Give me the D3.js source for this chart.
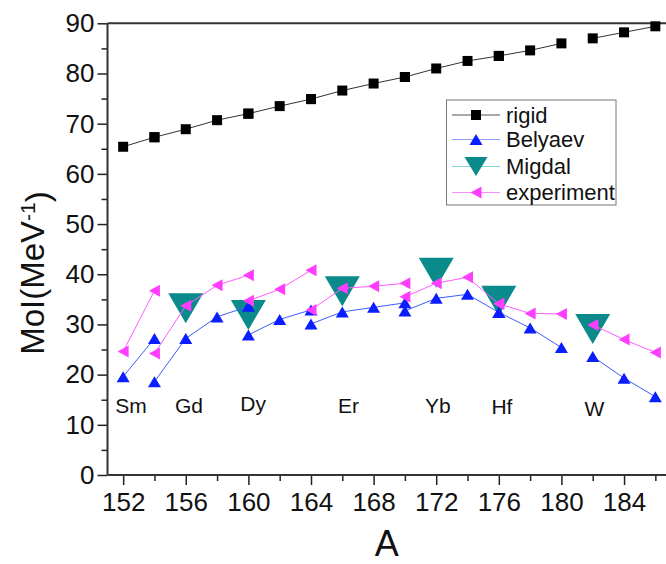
<!DOCTYPE html>
<html>
<head>
<meta charset="utf-8">
<script src="https://cdn.jsdelivr.net/npm/d3@7"></script>
<style>
  html, body { margin: 0; padding: 0; background: #fff; }
  svg { display: block; font-family: "Liberation Sans", Arial, sans-serif; }
</style>
</head>
<body>
<svg id="chart" width="666" height="564"></svg>
<script>
// Isotope mass numbers, grouped by element (each group is drawn as its own polyline)
const elements = ["Sm", "Gd", "Dy", "Er", "Yb", "Hf", "W"];
const isotopeA = [
  [152, 154],
  [154, 156, 158, 160],
  [160, 162, 164],
  [164, 166, 168, 170],
  [170, 172, 174, 176],
  [176, 178, 180],
  [182, 184, 186]
];

// Moment of inertia (MeV^-1) for each series, same grouping as isotopeA
const rigid = [
  [65.4, 67.3],
  [67.3, 68.9, 70.7, 72.0],
  [72.0, 73.5, 74.9],
  [74.9, 76.6, 78.0, 79.3],
  [79.3, 81.0, 82.5, 83.5],
  [83.5, 84.6, 86.0],
  [87.0, 88.2, 89.4]
];
const belyaev = [
  [19.6, 27.2],
  [18.6, 27.2, 31.5, 33.6],
  [27.9, 31.0, 32.9],
  [30.1, 32.5, 33.4, 34.3],
  [32.7, 35.2, 36.0, 32.4],
  [32.4, 29.3, 25.4],
  [23.6, 19.3, 15.6]
];
const experiment = [
  [24.6, 36.7],
  [24.2, 33.7, 37.8, 39.8],
  [34.7, 37.0, 40.8],
  [32.9, 37.2, 37.6, 38.2],
  [35.5, 38.2, 39.4, 34.1],
  [34.1, 32.2, 32.1],
  [29.9, 27.0, 24.4]
];

// Migdal estimate: one nucleus per element
const migdalA = [156, 160, 166, 172, 176, 182];
const migdal = [33.2, 31.9, 36.6, 40.3, 34.7, 29.1];

// Element name annotations (anchor in data coordinates)
const elementLabelA = [152.5, 156.2, 160.3, 166.4, 172.1, 176.2, 182.1];
const elementLabelY = [13.8, 13.8, 14.3, 13.8, 13.8, 13.7, 13.2];

const xTicks = d3.range(152, 185, 4);
const xMinorTicks = d3.range(154, 187, 4);
const yTicks = d3.range(0, 91, 10);
const yMinorTicks = d3.range(5, 90, 10);

const svg = d3.select("#chart");

const x = d3.scaleLinear().domain([151, 187]).range([107.5, 671]);
const y = d3.scaleLinear().domain([0, 90]).range([475, 23.3]);

const FONT = '"Liberation Sans", Arial, sans-serif';

// Symbol paths centred on their bounding box
const shapes = {
  square: s => `M${-s/2},${-s/2}h${s}v${s}h${-s}Z`,
  up: (w, h) => `M0,${-h/2}L${w/2},${h/2}L${-w/2},${h/2}Z`,
  down: (w, h) => `M${-w/2},${-h/2}L${w/2},${-h/2}L0,${h/2}Z`,
  left: (w, h) => `M${-w/2},0L${w/2},${-h/2}L${w/2},${h/2}Z`
};

const series = [
  { name: "rigid", values: rigid, line: "#333", fill: "#000", path: shapes.square(10) },
  { name: "Belyaev", values: belyaev, line: "#3d5cff", fill: "#0a1eff", path: shapes.up(13, 11) },
  { name: "experiment", values: experiment, line: "#ff5cff", fill: "#ff3dff", path: shapes.left(11, 12) }
];
const migdalStyle = { line: "#7fd6d0", fill: "#0a8a8a", path: shapes.down(35, 30), legendPath: shapes.down(23, 19) };

// Axes
const gx = svg.append("g").attr("transform", `translate(0,${y(0)})`);
gx.call(d3.axisBottom(x).tickValues(xTicks).tickSize(10).tickSizeOuter(0).tickPadding(8));
gx.append("g").call(d3.axisBottom(x).tickValues(xMinorTicks).tickSize(6).tickSizeOuter(0).tickFormat(""));

const gy = svg.append("g").attr("transform", `translate(${x(151)},0)`);
gy.call(d3.axisLeft(y).tickValues(yTicks).tickSize(10).tickSizeOuter(0).tickPadding(3));
gy.append("g").call(d3.axisLeft(y).tickValues(yMinorTicks).tickSize(6).tickSizeOuter(0).tickFormat(""));

svg.selectAll(".domain").remove();
svg.selectAll(".tick line").attr("stroke", "#222").attr("stroke-width", 1.5);
svg.selectAll(".tick text").attr("font-family", FONT).attr("font-size", 26).attr("fill", "#111");

// Frame (left, bottom, top)
const frame = svg.append("g").attr("stroke", "#333").attr("stroke-width", 2).attr("fill", "none");
frame.append("line").attr("x1", x(151)).attr("x2", x(151)).attr("y1", y(90)).attr("y2", y(0));
frame.append("line").attr("x1", x(151)).attr("x2", x(187)).attr("y1", y(0)).attr("y2", y(0));
frame.append("line").attr("x1", x(151)).attr("x2", x(187)).attr("y1", y(90)).attr("y2", y(90));

// Axis titles
svg.append("text")
  .attr("x", (x(151) + 666) / 2).attr("y", 556)
  .attr("text-anchor", "middle")
  .attr("font-family", FONT).attr("font-size", 36).attr("fill", "#111")
  .text("A");

const yTitle = svg.append("text")
  .attr("transform", `translate(44,273) rotate(-90)`)
  .attr("text-anchor", "middle")
  .attr("font-family", FONT).attr("font-size", 33).attr("fill", "#111");
yTitle.append("tspan").text("MoI(MeV");
yTitle.append("tspan").attr("dy", "-0.45em").attr("font-size", 21).text("-1");
yTitle.append("tspan").attr("dy", "0.45em").text(")");

const lineGen = d3.line().x(d => x(d[0])).y(d => y(d[1]));
const plot = svg.append("g");

function drawSeries(s) {
  const g = plot.append("g");
  isotopeA.forEach((As, i) => {
    const pts = As.map((a, j) => [a, s.values[i][j]]);
    g.append("path").attr("d", lineGen(pts))
      .attr("fill", "none").attr("stroke", s.line).attr("stroke-width", 1);
  });
  isotopeA.forEach((As, i) => {
    As.forEach((a, j) => {
      g.append("path").attr("d", s.path)
        .attr("transform", `translate(${x(a)},${y(s.values[i][j])})`)
        .attr("fill", s.fill);
    });
  });
}

// Draw order: rigid, Migdal, Belyaev, experiment
drawSeries(series[0]);
plot.append("g").selectAll("path").data(migdalA).join("path")
  .attr("d", migdalStyle.path)
  .attr("transform", (a, i) => `translate(${x(a)},${y(migdal[i])})`)
  .attr("fill", migdalStyle.fill);
drawSeries(series[1]);
drawSeries(series[2]);

// Element labels
svg.append("g").selectAll("text").data(elements).join("text")
  .attr("x", (d, i) => x(elementLabelA[i]))
  .attr("y", (d, i) => y(elementLabelY[i]))
  .attr("dy", "0.35em")
  .attr("text-anchor", "middle")
  .attr("font-family", FONT).attr("font-size", 21).attr("fill", "#111")
  .text(d => d);

// Legend
const legendItems = [
  { name: "rigid", line: "#555", fill: "#000", path: shapes.square(10) },
  { name: "Belyaev", line: "#8fa0ff", fill: "#0a1eff", path: shapes.up(13, 11) },
  { name: "Migdal", line: migdalStyle.line, fill: migdalStyle.fill, path: migdalStyle.legendPath },
  { name: "experiment", line: "#ff8cff", fill: "#ff3dff", path: shapes.left(11, 12) }
];
const rowY = [115, 139.5, 166.5, 192.5];
const legend = svg.append("g");
legend.append("rect")
  .attr("x", 446.5).attr("y", 100).attr("width", 169.5).attr("height", 105)
  .attr("fill", "#fff").attr("stroke", "#777").attr("stroke-width", 1);
legendItems.forEach((d, i) => {
  const row = legend.append("g").attr("transform", `translate(0,${rowY[i]})`);
  row.append("line").attr("x1", 452).attr("x2", 500).attr("stroke", d.line).attr("stroke-width", 1);
  row.append("path").attr("d", d.path).attr("transform", "translate(476,0)").attr("fill", d.fill);
  row.append("text").attr("x", 506).attr("dy", "0.35em")
    .attr("font-family", FONT).attr("font-size", 22).attr("fill", "#111")
    .text(d.name);
});
</script>
</body>
</html>
